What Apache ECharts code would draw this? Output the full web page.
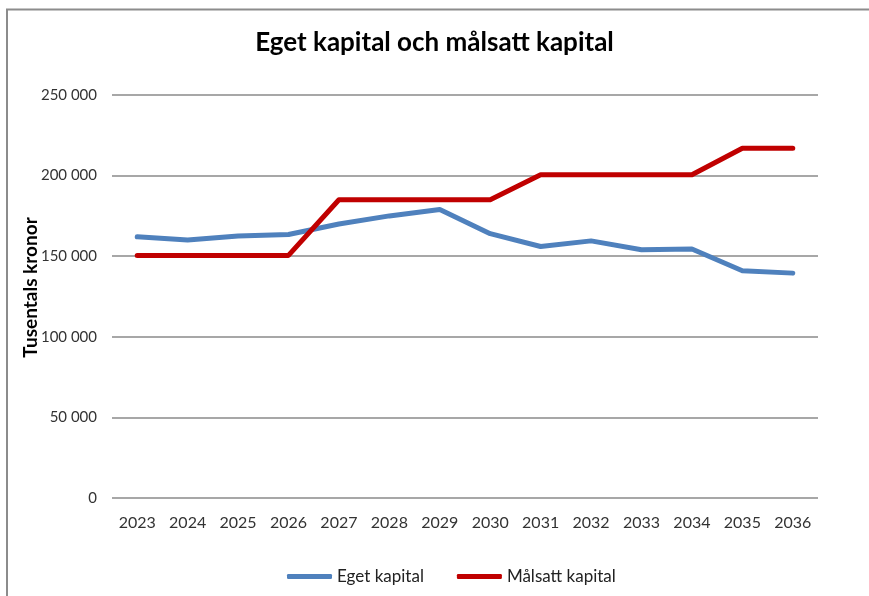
<!DOCTYPE html>
<html>
<head>
<meta charset="utf-8">
<script src="https://cdn.jsdelivr.net/npm/echarts@6/dist/echarts.min.js"></script>
<style>
html,body{margin:0;padding:0;background:#fff;}
#chart{width:869px;height:596px;}
</style>
</head>
<body>
<div id="chart"></div>
<script>
const categories = ['2023','2024','2025','2026','2027','2028','2029','2030','2031','2032','2033','2034','2035','2036'];
const egetKapital = [162000,160000,162500,163500,170000,175000,179000,164000,156000,159500,154000,154500,141000,139500];
const malsattKapital = [150500,150500,150500,150500,185000,185000,185000,185000,200500,200500,200500,200500,217000,217000];
const yTicks = [0,50000,100000,150000,200000,250000];

const FONT = 'Lato';
const chart = echarts.init(document.getElementById('chart'));
chart.setOption({
  animation:false,
  backgroundColor:'#ffffff',
  title:{
    text:'Eget kapital och målsatt kapital',
    left:'center', top:25,
    textStyle:{fontFamily:FONT,fontWeight:'bold',fontSize:26,color:'#000'}
  },
  graphic:[{
    type:'polyline',
    shape:{points:[[7,600],[7,9.5],[872,9.5]]},
    style:{stroke:'#8c8c8c',lineWidth:2,fill:null},
    silent:true
  }],
  legend:{
    bottom:6, left:282,
    itemWidth:45, itemHeight:5, itemGap:33,
    icon:'roundRect',
    textStyle:{fontFamily:FONT,fontSize:17,color:'#222'},
    data:['Eget kapital','Målsatt kapital']
  },
  grid:{left:112,right:51,top:95,bottom:98,containLabel:false},
  xAxis:{
    type:'category', data:categories, boundaryGap:true,
    axisLine:{show:false}, axisTick:{show:false},
    axisLabel:{fontFamily:FONT,fontSize:16,color:'#333',margin:17}
  },
  yAxis:{
    type:'value', min:0, max:250000, interval:50000,
    name:'Tusentals kronor', nameLocation:'middle', nameRotate:90, nameGap:72,
    nameMoveOverlap:false,
    nameTextStyle:{fontFamily:FONT,fontWeight:'bold',fontSize:19,color:'#000',padding:[0,0,0,18]},
    axisLine:{show:false}, axisTick:{show:false},
    axisLabel:{fontFamily:FONT,fontSize:15,color:'#333',margin:15,
      formatter:v=>String(v).replace(/\B(?=(\d{3})+(?!\d))/g,' ')},
    splitLine:{lineStyle:{color:'#8a8a8a',width:1.6}}
  },
  series:[
    {name:'Eget kapital',type:'line',data:egetKapital,symbol:'none',
     color:'#4F81BD',
     lineStyle:{color:'#4F81BD',width:5,cap:'round',join:'round'},
     itemStyle:{color:'#4F81BD'}},
    {name:'Målsatt kapital',type:'line',data:malsattKapital,symbol:'none',
     color:'#C00000',
     lineStyle:{color:'#C00000',width:5,cap:'round',join:'round'},
     itemStyle:{color:'#C00000'}}
  ]
});
</script>
</body>
</html>
